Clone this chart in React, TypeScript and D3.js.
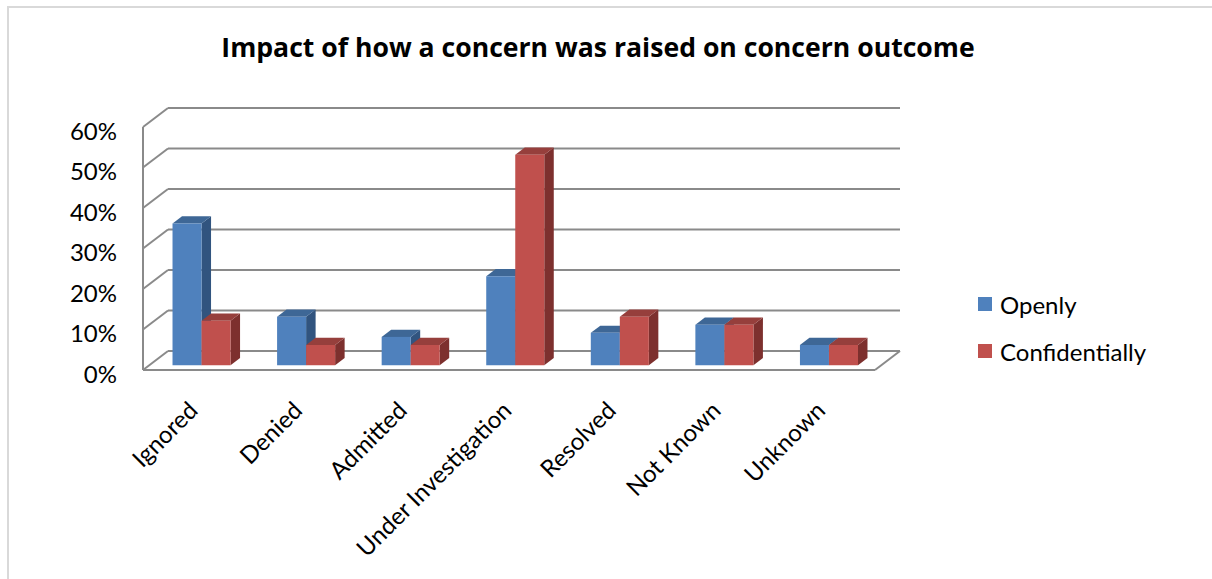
import React from "react";
import * as d3 from "d3";

const categories = ["Ignored", "Denied", "Admitted", "Under Investigation", "Resolved", "Not Known", "Unknown"];
const seriesNames = ["Openly", "Confidentially"];
const openly = [0.35, 0.12, 0.07, 0.22, 0.08, 0.1, 0.05];
const confidentially = [0.11, 0.05, 0.05, 0.52, 0.12, 0.1, 0.05];
const yTicks = [0, 0.1, 0.2, 0.3, 0.4, 0.5, 0.6];
const titleText = "Impact of how a concern was raised on concern outcome";

const W = 1212;
const H = 579;
const FONT = "Lato, 'Open Sans', sans-serif";

const colors = [
  { front: "#4F81BD", top: "#3E6796", side: "#31547F" },
  { front: "#C0504D", top: "#963F3C", side: "#7D302E" },
];

export default function App() {
  const x0 = 143;
  const x1 = 875;
  const DX = 25;
  const DY = -19;
  const d0 = 0.25;
  const d1 = 0.63;

  const y = d3.scaleLinear().domain([0, 0.6]).range([370, 127]);
  const xBand = d3
    .scaleBand<string>()
    .domain(categories)
    .range([x0, x1])
    .paddingInner(0.445)
    .paddingOuter(0.2225);
  const xSeries = d3.scaleBand<number>().domain([0, 1]).range([0, xBand.bandwidth()]);

  const P = (x: number, v: number, d: number): [number, number] => [x + d * DX, y(v) + d * DY];
  const poly = (pts: [number, number][]) => pts.map((p) => p.join(",")).join(" ");

  const seriesValues = [openly, confidentially];
  const gridColor = "#8A8A8A";

  const bars: React.ReactNode[] = [];
  categories.forEach((c, i) => {
    seriesValues.forEach((vals, s) => {
      const v = vals[i];
      const bx0 = (xBand(c) as number) + (xSeries(s) as number);
      const bx1 = bx0 + xSeries.bandwidth();
      const col = colors[s];
      bars.push(
        <g key={c + s}>
          <polygon
            points={poly([P(bx1, 0, d0), P(bx1, 0, d1), P(bx1, v, d1), P(bx1, v, d0)])}
            fill={col.side}
          />
          <polygon
            points={poly([P(bx0, v, d0), P(bx1, v, d0), P(bx1, v, d1), P(bx0, v, d1)])}
            fill={col.top}
          />
          <polygon
            points={poly([P(bx0, 0, d0), P(bx1, 0, d0), P(bx1, v, d0), P(bx0, v, d0)])}
            fill={col.front}
          />
        </g>
      );
    });
  });

  return (
    <svg
      width={W}
      height={H}
      style={{ position: "absolute", left: 0, top: 0, background: "#fff" }}
      fontFamily={FONT}
    >
      <rect x={8} y={7} width={W + 20} height={H + 20} fill="#fff" stroke="#D9D9D9" strokeWidth={2} />
      <text
        x={598}
        y={57}
        textAnchor="middle"
        fontWeight="bold"
        fontSize={26.6}
        fontFamily="'Open Sans', Lato, sans-serif"
        fill="#000"
      >
        {titleText}
      </text>

      {/* walls / gridlines */}
      {yTicks.map((t) => {
        const a = P(x0, t, 0);
        const b = P(x0, t, 1);
        const c = P(x1, t, 1);
        return (
          <g key={"g" + t}>
            <line x1={a[0]} y1={a[1]} x2={b[0]} y2={b[1]} stroke={gridColor} strokeWidth={2} />
            <line x1={b[0]} y1={b[1]} x2={c[0]} y2={c[1]} stroke={gridColor} strokeWidth={2} />
          </g>
        );
      })}
      <line x1={x0} y1={y(0)} x2={x0} y2={y(0.6)} stroke={gridColor} strokeWidth={2} />
      <line x1={x0} y1={y(0)} x2={x1} y2={y(0)} stroke={gridColor} strokeWidth={2} />
      <line
        x1={x1}
        y1={y(0)}
        x2={P(x1, 0, 1)[0]}
        y2={P(x1, 0, 1)[1]}
        stroke={gridColor}
        strokeWidth={2}
      />

      {bars}

      {/* y tick labels */}
      {yTicks.map((t) => (
        <text
          key={"t" + t}
          x={117}
          y={y(t) + 3}
          textAnchor="end"
          dominantBaseline="central"
          fontSize={24}
          fill="#000"
        >
          {d3.format(".0%")(t)}
        </text>
      ))}

      {/* category labels */}
      {categories.map((c) => {
        const cx = (xBand(c) as number) + xBand.bandwidth() / 2 + 4;
        const cy = 412;
        return (
          <text
            key={"c" + c}
            x={cx}
            y={cy}
            textAnchor="end"
            fontSize={24}
            fill="#000"
            transform={`rotate(-45 ${cx} ${cy})`}
          >
            {c}
          </text>
        );
      })}

      {/* legend */}
      {seriesNames.map((n, s) => (
        <g key={"l" + n} transform={`translate(978, ${297 + s * 47})`}>
          <rect x={0} y={0} width={14} height={14} fill={colors[s].front} />
          <text x={22} y={7} dominantBaseline="central" fontSize={24} fill="#000">
            {n}
          </text>
        </g>
      ))}
    </svg>
  );
}
